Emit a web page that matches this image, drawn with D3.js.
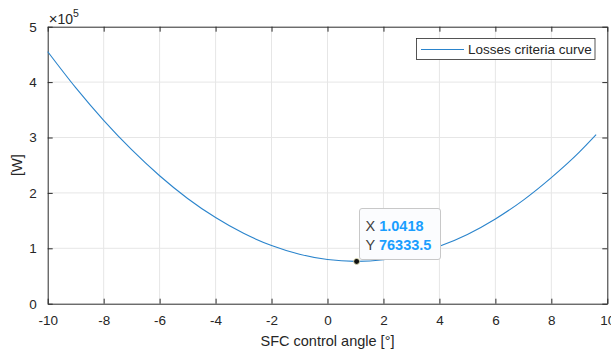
<!DOCTYPE html>
<html>
<head>
<meta charset="utf-8">
<script src="https://cdn.jsdelivr.net/npm/d3@7"></script>
<style>
  body { margin: 0; background: #fff; }
  text { font-family: "Liberation Sans", Arial, Helvetica, sans-serif; fill: #262626; }
</style>
</head>
<body>
<div id="vis"></div>
<script>
// values
var angles = [-10, -9, -8, -7, -6, -5, -4, -3, -2, -1, 0, 1, 1.0418, 2, 3, 4, 5, 6, 7, 8, 9, 9.6];
var losses = [455000, 390000, 331000, 278000, 231000, 190000, 155500, 127000, 105000, 89300, 79700, 76340, 76333.5,
              79200, 88300, 103600, 125000, 153000, 187000, 227500, 273500, 305000];
var xTicks = [-10, -8, -6, -4, -2, 0, 2, 4, 6, 8, 10];
var yTicks = [0, 1, 2, 3, 4, 5];
var tipPoint = { x: 1.0418, y: 76333.5 };

var width = 611, height = 354;
var plotLeft = 47.7, plotRight = 607.3, plotTop = 26.7, plotBottom = 303.7;
var lineColor = "#2a84cc";

var svg = d3.select("#vis").append("svg").attr("width", width).attr("height", height);

var x = d3.scaleLinear().domain([-10, 10]).range([plotLeft, plotRight]);
var y = d3.scaleLinear().domain([0, 5e5]).range([plotBottom, plotTop]);

// grid
svg.selectAll(".gx").data(xTicks.slice(1, -1)).enter().append("line")
  .attr("x1", function(d){ return x(d); }).attr("x2", function(d){ return x(d); })
  .attr("y1", plotTop).attr("y2", plotBottom)
  .attr("stroke", "#e6e6e6").attr("stroke-width", 1);
svg.selectAll(".gy").data(yTicks.slice(1, -1)).enter().append("line")
  .attr("y1", function(d){ return y(d * 1e5); }).attr("y2", function(d){ return y(d * 1e5); })
  .attr("x1", plotLeft).attr("x2", plotRight)
  .attr("stroke", "#e6e6e6").attr("stroke-width", 1);

// axes (box with inward ticks)
var axisColor = "#2b2b2b";
svg.append("g").attr("transform", "translate(0," + plotBottom + ")")
  .call(d3.axisBottom(x).tickValues(xTicks).tickSizeInner(-5).tickSizeOuter(0).tickPadding(12))
  .call(function(g){
    g.select(".domain").attr("stroke", axisColor);
    g.selectAll("line").attr("stroke", axisColor);
    g.selectAll("text").attr("font-size", "13.5px").attr("fill", axisColor)
      .text(function(d){ return d; });
  });
svg.append("g").attr("transform", "translate(0," + plotTop + ")")
  .call(d3.axisTop(x).tickValues(xTicks).tickSizeInner(-5).tickSizeOuter(0).tickFormat(""))
  .call(function(g){
    g.select(".domain").attr("stroke", axisColor);
    g.selectAll("line").attr("stroke", axisColor);
  });
svg.append("g").attr("transform", "translate(" + plotLeft + ",0)")
  .call(d3.axisLeft(y).tickValues(yTicks.map(function(d){ return d * 1e5; }))
    .tickFormat(function(d){ return d / 1e5; }).tickSizeInner(-5).tickSizeOuter(0).tickPadding(11))
  .call(function(g){
    g.select(".domain").attr("stroke", axisColor);
    g.selectAll("line").attr("stroke", axisColor);
    g.selectAll("text").attr("font-size", "13.5px").attr("fill", axisColor);
  });
svg.append("g").attr("transform", "translate(" + plotRight + ",0)")
  .call(d3.axisRight(y).tickValues(yTicks.map(function(d){ return d * 1e5; }))
    .tickSizeInner(-5).tickSizeOuter(0).tickFormat(""))
  .call(function(g){
    g.select(".domain").attr("stroke", axisColor);
    g.selectAll("line").attr("stroke", axisColor);
  });

// exponent label
var expo = svg.append("text").attr("x", plotLeft + 1).attr("y", 23.5).attr("font-size", "14px");
expo.append("tspan").attr("font-size", "15px").text("\u00d7");
expo.append("tspan").text("10");
expo.append("tspan").attr("dy", -7).attr("font-size", "10.5px").text("5");

// axis labels
svg.append("text").attr("x", (plotLeft + plotRight) / 2).attr("y", 346)
  .attr("text-anchor", "middle").attr("font-size", "14.5px").text("SFC control angle [\u00b0]");
svg.append("text").attr("transform", "translate(22," + (plotTop + plotBottom) / 2 + ") rotate(-90)")
  .attr("text-anchor", "middle").attr("font-size", "14.5px").text("[W]");

// curve
var pts = angles.map(function(a, i){ return { x: a, y: losses[i] }; });
svg.append("path").datum(pts)
  .attr("fill", "none").attr("stroke", lineColor).attr("stroke-width", 1.1)
  .attr("d", d3.line().x(function(d){ return x(d.x); }).y(function(d){ return y(d.y); }).curve(d3.curveMonotoneX));

// legend
var lg = svg.append("g");
lg.append("rect").attr("x", 416.5).attr("y", 38.5).attr("width", 178.5).attr("height", 21)
  .attr("fill", "#fff").attr("stroke", "#2b2b2b").attr("stroke-width", 0.8);
lg.append("line").attr("x1", 421).attr("x2", 464).attr("y1", 49.5).attr("y2", 49.5)
  .attr("stroke", lineColor).attr("stroke-width", 1.1);
lg.append("text").attr("x", 468).attr("y", 54).attr("font-size", "13.5px").text("Losses criteria curve");

// datatip
var tx = x(tipPoint.x), ty = y(tipPoint.y);
var tip = svg.append("g");
tip.append("rect").attr("x", 359.5).attr("y", 208.5).attr("width", 81).attr("height", 51).attr("rx", 2.5)
  .attr("fill", "#fbfcfe").attr("stroke", "#c8c8c8").attr("stroke-width", 1);
var blue = "#1a9eff";
var t1 = tip.append("text").attr("x", 365.5).attr("y", 230.5).attr("font-size", "14.5px");
t1.append("tspan").attr("fill", "#404040").text("X ");
t1.append("tspan").attr("fill", blue).attr("font-weight", "bold").text(tipPoint.x);
var t2 = tip.append("text").attr("x", 365.5).attr("y", 249.5).attr("font-size", "14.5px");
t2.append("tspan").attr("fill", "#404040").text("Y ");
t2.append("tspan").attr("fill", blue).attr("font-weight", "bold").text(tipPoint.y);
svg.append("circle").attr("cx", tx).attr("cy", ty).attr("r", 3)
  .attr("fill", "#111").attr("stroke", "#f3f0c0").attr("stroke-width", 0.8);
</script>
</body>
</html>
